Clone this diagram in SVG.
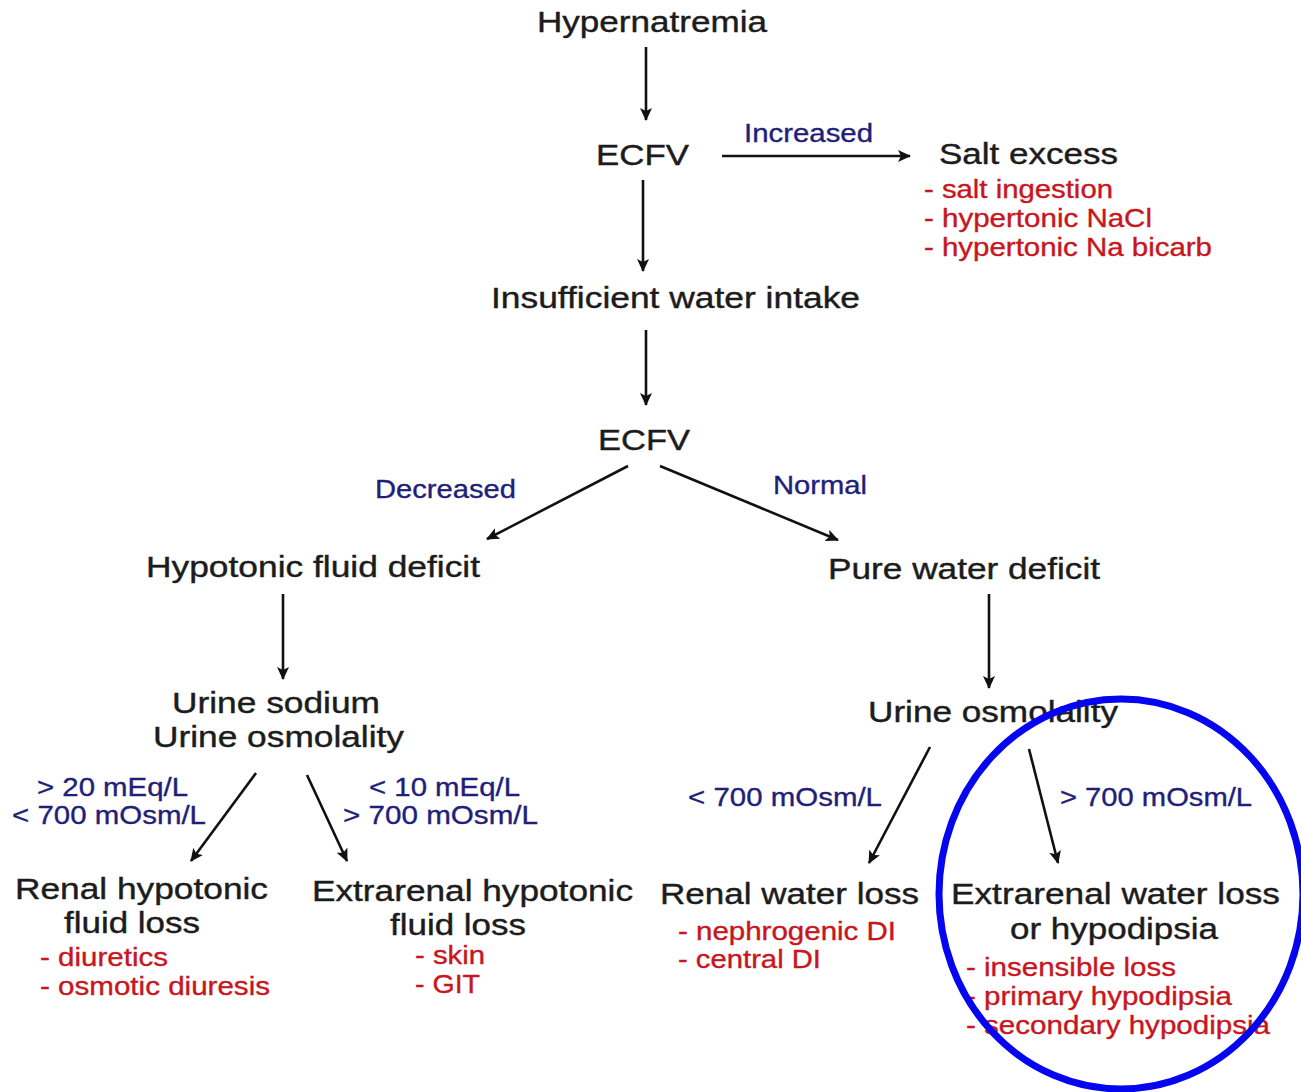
<svg xmlns="http://www.w3.org/2000/svg" width="1301" height="1092" viewBox="0 0 1301 1092">
<style>
text{font-family:"Liberation Sans",Arial,sans-serif}
.m{font-size:29px;fill:#1c1c1c;stroke:#1c1c1c;stroke-width:0.4}
.b{font-size:25px;fill:#1f1f7a;stroke:#1f1f7a;stroke-width:0.35}
.r{font-size:25px;fill:#c8161e;stroke:#c8161e;stroke-width:0.35}
.c{stroke:#111;stroke-width:2.6;fill:none;marker-end:url(#ah)}
</style>
<defs>
<marker id="ah" viewBox="0 0 13 12" refX="12" refY="6" markerWidth="13" markerHeight="12" markerUnits="userSpaceOnUse" orient="auto">
<path d="M0,0 L13,6 L0,12 L3,6 Z" fill="#111"/>
</marker>
</defs>
<rect width="1301" height="1092" fill="#fff"/>
<g id="connectors">
<line class="c" x1="646" y1="47" x2="646" y2="120"/>
<line class="c" x1="722" y1="156" x2="910" y2="156"/>
<line class="c" x1="643" y1="180" x2="643" y2="271"/>
<line class="c" x1="646" y1="330" x2="646" y2="405"/>
<line class="c" x1="628" y1="466" x2="487" y2="539"/>
<line class="c" x1="660" y1="466" x2="838" y2="540"/>
<line class="c" x1="283" y1="594" x2="283" y2="679"/>
<line class="c" x1="989" y1="594" x2="989" y2="688"/>
<line class="c" x1="256" y1="773" x2="191" y2="861"/>
<line class="c" x1="307" y1="775" x2="347" y2="861"/>
<line class="c" x1="930" y1="747" x2="869" y2="863"/>
<line class="c" x1="1029" y1="749" x2="1058" y2="863"/>
<text class="b" x="744" y="142" textLength="129" lengthAdjust="spacingAndGlyphs">Increased</text>
<text class="b" x="375" y="498" textLength="141" lengthAdjust="spacingAndGlyphs">Decreased</text>
<text class="b" x="773" y="494" textLength="94" lengthAdjust="spacingAndGlyphs">Normal</text>
<text class="b" x="37" y="796" textLength="151" lengthAdjust="spacingAndGlyphs">&gt; 20 mEq/L</text>
<text class="b" x="12" y="824" textLength="194" lengthAdjust="spacingAndGlyphs">&lt; 700 mOsm/L</text>
<text class="b" x="369" y="796" textLength="151" lengthAdjust="spacingAndGlyphs">&lt; 10 mEq/L</text>
<text class="b" x="343" y="824" textLength="195" lengthAdjust="spacingAndGlyphs">&gt; 700 mOsm/L</text>
<text class="b" x="688" y="806" textLength="194" lengthAdjust="spacingAndGlyphs">&lt; 700 mOsm/L</text>
<text class="b" x="1060" y="806" textLength="192" lengthAdjust="spacingAndGlyphs">&gt; 700 mOsm/L</text>
</g>
<g id="hypernatremia"><text class="m" x="537" y="32" textLength="230" lengthAdjust="spacingAndGlyphs">Hypernatremia</text></g>
<g id="ecfv1"><text class="m" x="596" y="165" textLength="93" lengthAdjust="spacingAndGlyphs">ECFV</text></g>
<g id="salt-excess">
<text class="m" x="939" y="164" textLength="179" lengthAdjust="spacingAndGlyphs">Salt excess</text>
<text class="r" x="924" y="198" textLength="189" lengthAdjust="spacingAndGlyphs">- salt ingestion</text>
<text class="r" x="924" y="227" textLength="228" lengthAdjust="spacingAndGlyphs">- hypertonic NaCl</text>
<text class="r" x="924" y="256" textLength="288" lengthAdjust="spacingAndGlyphs">- hypertonic Na bicarb</text>
</g>
<g id="insufficient"><text class="m" x="491" y="308" textLength="369" lengthAdjust="spacingAndGlyphs">Insufficient water intake</text></g>
<g id="ecfv2"><text class="m" x="598" y="450" textLength="92" lengthAdjust="spacingAndGlyphs">ECFV</text></g>
<g id="hypotonic-deficit"><text class="m" x="146" y="577" textLength="334" lengthAdjust="spacingAndGlyphs">Hypotonic fluid deficit</text></g>
<g id="pure-water-deficit"><text class="m" x="828" y="579" textLength="272" lengthAdjust="spacingAndGlyphs">Pure water deficit</text></g>
<g id="urine-na-osm">
<text class="m" x="172" y="713" textLength="208" lengthAdjust="spacingAndGlyphs">Urine sodium</text>
<text class="m" x="153" y="747" textLength="251" lengthAdjust="spacingAndGlyphs">Urine osmolality</text>
</g>
<g id="urine-osm"><text class="m" x="868" y="722" textLength="250" lengthAdjust="spacingAndGlyphs">Urine osmolality</text></g>
<g id="renal-hypotonic">
<text class="m" x="15" y="899" textLength="253" lengthAdjust="spacingAndGlyphs">Renal hypotonic</text>
<text class="m" x="64" y="933" textLength="136" lengthAdjust="spacingAndGlyphs">fluid loss</text>
<text class="r" x="40" y="966" textLength="128" lengthAdjust="spacingAndGlyphs">- diuretics</text>
<text class="r" x="40" y="995" textLength="230" lengthAdjust="spacingAndGlyphs">- osmotic diuresis</text>
</g>
<g id="extrarenal-hypotonic">
<text class="m" x="312" y="901" textLength="321" lengthAdjust="spacingAndGlyphs">Extrarenal hypotonic</text>
<text class="m" x="390" y="935" textLength="136" lengthAdjust="spacingAndGlyphs">fluid loss</text>
<text class="r" x="415" y="964" textLength="70" lengthAdjust="spacingAndGlyphs">- skin</text>
<text class="r" x="415" y="993" textLength="65" lengthAdjust="spacingAndGlyphs">- GIT</text>
</g>
<g id="renal-water">
<text class="m" x="660" y="904" textLength="259" lengthAdjust="spacingAndGlyphs">Renal water loss</text>
<text class="r" x="678" y="940" textLength="218" lengthAdjust="spacingAndGlyphs">- nephrogenic DI</text>
<text class="r" x="678" y="968" textLength="143" lengthAdjust="spacingAndGlyphs">- central DI</text>
</g>
<g id="extrarenal-water">
<text class="m" x="951" y="904" textLength="329" lengthAdjust="spacingAndGlyphs">Extrarenal water loss</text>
<text class="m" x="1010" y="939" textLength="208" lengthAdjust="spacingAndGlyphs">or hypodipsia</text>
<text class="r" x="966" y="976" textLength="210" lengthAdjust="spacingAndGlyphs">- insensible loss</text>
<text class="r" x="966" y="1005" textLength="266" lengthAdjust="spacingAndGlyphs">- primary hypodipsia</text>
<text class="r" x="966" y="1034" textLength="304" lengthAdjust="spacingAndGlyphs">- secondary hypodipsia</text>
</g>
<g id="highlight"><ellipse cx="1121" cy="894" rx="182" ry="195" fill="none" stroke="#0505f0" stroke-width="7"/></g>
</svg>
